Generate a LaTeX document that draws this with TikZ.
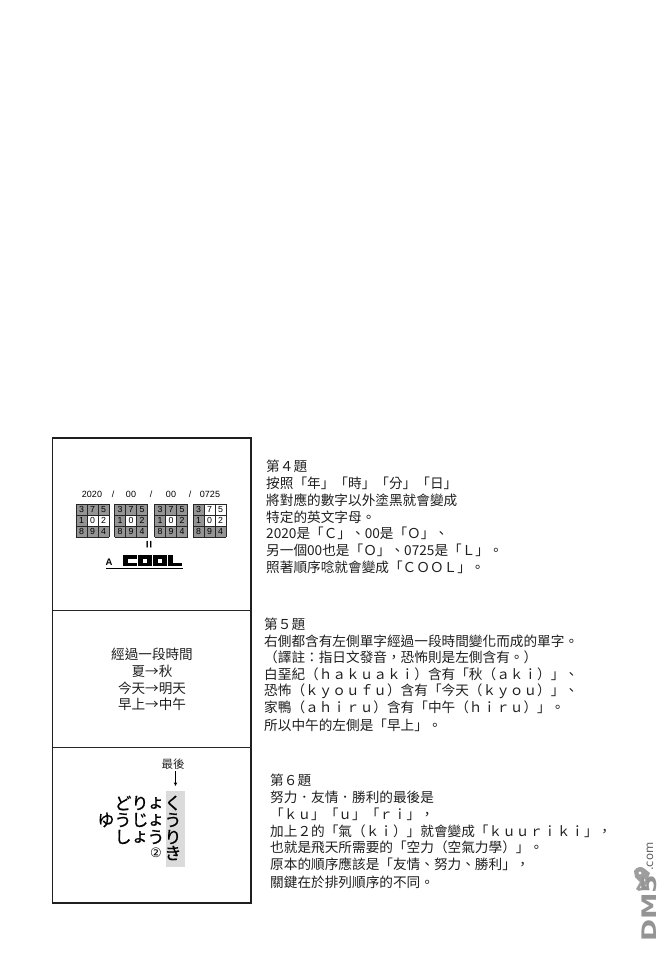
\documentclass[tikz,border=0pt]{standalone}
\usepackage{fontspec}
\setmainfont{Liberation Sans}
\newfontfamily\tcfont{Noto Sans CJK TC}
\newfontfamily\jpfont[FakeBold=0.8]{Noto Sans CJK JP}
\newfontfamily\latinfont{Liberation Sans}
\newfontfamily\wmfont{DejaVu Sans}
\usetikzlibrary{arrows.meta}
\tikzset{
  note/.style={anchor=west,inner sep=0pt,text height=10.5pt,text depth=0pt,text=black!88,font=\tcfont\fontsize{13.65}{14}\selectfont},
  mid/.style={inner sep=0pt,text height=10.5pt,text depth=0pt,text=black!88,font=\tcfont\fontsize{13.6}{14}\selectfont},
  kana/.style={inner sep=0pt,font=\jpfont\fontsize{17}{18}\selectfont},
  datelabel/.style={inner sep=0pt,font=\latinfont\fontsize{9}{9}\selectfont},
  celldigit/.style={inner sep=0pt,font=\latinfont\fontsize{8.8}{9}\selectfont},
  frameline/.style={line width=1.3pt,draw=black!88},
  divider/.style={line width=0.9pt,draw=black!85},
  wm/.style={text=black!42,inner sep=0pt,rotate=90}
}
\newcommand\digitgrid[3]{%
  \begin{scope}[shift={(#1,504)}]
    \fill[black!42] (0,0) rectangle (33,33);
    \foreach \c/\r in {#3} {\fill[white] (\c*11,\r*11) rectangle (\c*11+11,\r*11+11);}
    \draw[line width=0.6pt,black!85] (0,0) grid[step=11pt] (33,33);
    \foreach \c/\r/\d in {0/0/3,1/0/7,2/0/5,0/1/1,1/1/0,2/1/2,0/2/8,1/2/9,2/2/4}
      {\node[celldigit] (#2\d) at (\c*11+5.5,\r*11+5.5) {\d};}
  \end{scope}}
\newcommand\blockletter[2]{%
  \begin{scope}[shift={(#1,555)}]
    \fill[black] (0,0) rectangle (13.5,11.4);
    \foreach \c/\r in {#2} {\fill[white] (\c*4.5,\r*3.8) rectangle (\c*4.5+4.5,\r*3.8+3.8);}
  \end{scope}}
\begin{document}
\begin{tikzpicture}[x=1pt,y=-1pt]
\useasboundingbox (0,0) rectangle (672,956);
\fill[white] (0,0) rectangle (672,956);
% frame
\draw[frameline] (52.5,438) rectangle (251,903);
\draw[divider] (52.5,610) -- (251,610);
\draw[divider] (52.5,747) -- (251,747);
% panel 1
\node[datelabel] (d1) at (92,494) {2020};
\node[datelabel] (s1) at (113,494) {/};
\node[datelabel] (d2) at (131,494) {00};
\node[datelabel] (s2) at (151,494) {/};
\node[datelabel] (d3) at (171,494) {00};
\node[datelabel] (s3) at (190,494) {/};
\node[datelabel] (d4) at (210,494) {0725};
\digitgrid{76}{ga}{1/1,2/1}
\digitgrid{114.5}{gb}{1/1}
\digitgrid{154.5}{gc}{1/1}
\digitgrid{193}{gd}{1/0,2/0,1/1,2/1}
\node[inner sep=0pt,rotate=90,font=\latinfont\bfseries\fontsize{13}{13}\selectfont] (eq) at (150,545) {=};
\node[inner sep=0pt,font=\latinfont\bfseries\fontsize{9.5}{10}\selectfont] (aword) at (109,562) {A};
\blockletter{123}{1/1,2/1}
\blockletter{138}{1/1}
\blockletter{153}{1/1}
\blockletter{168}{1/0,2/0,1/1,2/1}
\draw[line width=0.9pt] (106,568.5) -- (183,568.5);
% panel 2
\node[mid] (p2a) at (152,654) {經過一段時間};
\node[mid] (p2b) at (152,671) {夏→秋};
\node[mid] (p2c) at (152,688) {今天→明天};
\node[mid] (p2d) at (152,704) {早上→中午};
% panel 3
\node[fill=black!14,minimum width=19pt,minimum height=76pt,inner sep=0pt] (kuuri) at (175.5,829) {};
\node[inner sep=0pt,text=black!85,font=\tcfont\fontsize{11.5}{12}\selectfont] (last) at (173,764) {最後};
\draw[-{Stealth[length=3.5pt,width=3.5pt]},line width=0.7pt,shorten <=1.5pt,shorten >=5pt] (last.south -| kuuri.north) -- (kuuri.north);
\foreach \n/\x/\y/\t in {a1/123/803/ど,a2/140/803/り,a3/156/803/ょ,a4/173/803/く,
  b1/106/820/ゆ,b2/123/820/う,b3/140/820/じ,b4/156/820/ょ,b5/173/820/う,
  c1/123/837/し,c2/140/837/ょ,c3/156/837/う,c4/173/837/り,d2/173/853/き}
  {\node[kana] (k\n) at (\x,\y) {\t};}
\node[inner sep=0pt,font=\wmfont\fontsize{13}{14}\selectfont] (two) at (156,853) {②};
% notes 4
\node[note] (n4a) at (266,466) {第４題};
\node[note] (n4b) at (266,483) {按照「年」「時」「分」「日」};
\node[note] (n4c) at (266,500) {將對應的數字以外塗黑就會變成};
\node[note] (n4d) at (266,517) {特定的英文字母。};
\node[note] (n4e) at (266,533) {2020是「Ｃ」、00是「Ｏ」、};
\node[note] (n4f) at (266,550) {另一個00也是「Ｏ」、0725是「Ｌ」。};
\node[note] (n4g) at (266,567) {照著順序唸就會變成「ＣＯＯＬ」。};
% notes 5
\node[note] (n5a) at (264,624) {第５題};
\node[note] (n5b) at (264,641) {右側都含有左側單字經過一段時間變化而成的單字。};
\node[note] (n5c) at (264,657) {（譯註：指日文發音，恐怖則是左側含有。）};
\node[note] (n5d) at (264,674) {白堊紀（ｈａｋｕａｋｉ）含有「秋（ａｋｉ）」、};
\node[note] (n5e) at (264,690) {恐怖（ｋｙｏｕｆｕ）含有「今天（ｋｙｏｕ）」、};
\node[note] (n5f) at (264,707) {家鴨（ａｈｉｒｕ）含有「中午（ｈｉｒｕ）」。};
\node[note] (n5g) at (264,725) {所以中午的左側是「早上」。};
% notes 6
\node[note] (n6a) at (270,780) {第６題};
\node[note] (n6b) at (270,797) {努力．友情．勝利的最後是};
\node[note] (n6c) at (270,814) {「ｋｕ」「ｕ」「ｒｉ」，};
\node[note] (n6d) at (270,831) {加上２的「氣（ｋｉ）」就會變成「ｋｕｕｒｉｋｉ」，};
\node[note] (n6e) at (270,847) {也就是飛天所需要的「空力（空氣力學）」。};
\node[note] (n6f) at (270,864) {原本的順序應該是「友情、努力、勝利」，};
\node[note] (n6g) at (270,882) {關鍵在於排列順序的不同。};
% watermark
\fill[black!38] (634,871) .. controls (637,866) and (642,866) .. (645,869) -- (650,873) -- (647,881) .. controls (645,891) and (639,893) .. (636,889) -- (640,882) -- (635,877) -- cycle;
\fill[white] (640,873) circle (1.6) (644,880) circle (1.5) (641,887) circle (1);
\node[wm,anchor=west,font=\wmfont\bfseries\fontsize{20}{20}\selectfont] (wmdms) at (649,942) {\scalebox{1.33}[1]{DM5}};
\node[wm,anchor=west,text=black!62,font=\wmfont\fontsize{11.5}{12}\selectfont] (wmcom) at (650,871) {.com};
\end{tikzpicture}
\end{document}
